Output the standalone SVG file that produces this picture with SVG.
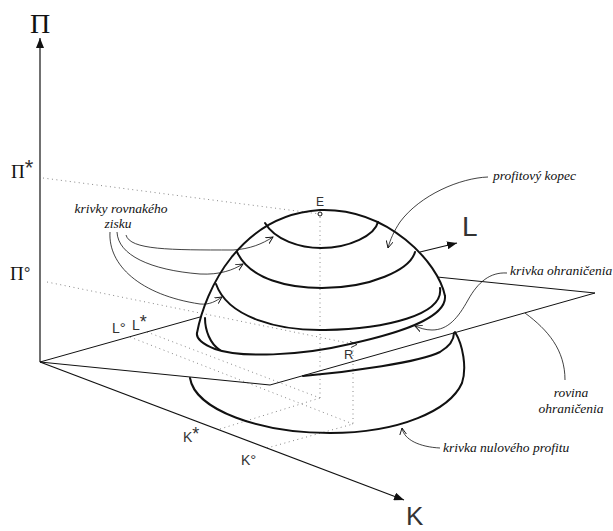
<svg xmlns="http://www.w3.org/2000/svg" width="613" height="531" viewBox="0 0 613 531">
<style>
.ax{stroke:#111;stroke-width:1.2;fill:none}
.pl{stroke:#111;stroke-width:1;fill:none}
.dm{stroke:#111;stroke-width:2;fill:none;stroke-linecap:round}
.dot{stroke:#888;stroke-width:1;fill:none;stroke-dasharray:1 3.5}
.ld{stroke:#111;stroke-width:0.8;fill:none}
.it{font-family:'Liberation Serif','DejaVu Serif',serif;font-style:italic;font-size:13.5px;fill:#111}
.sn{font-family:'Liberation Sans','DejaVu Sans',sans-serif;fill:#333}
.gr{font-family:'Liberation Serif',serif;fill:#111}
</style>
<defs>
<marker id="fa" viewBox="0 0 10 8" refX="10" refY="4" markerWidth="10" markerHeight="8" markerUnits="userSpaceOnUse" orient="auto"><path d="M0,0 L10,4 L0,8 Z" fill="#111"/></marker>
<marker id="oa" viewBox="0 0 8 8" refX="7" refY="4" markerWidth="8" markerHeight="8" markerUnits="userSpaceOnUse" orient="auto"><path d="M0,0.5 L7,4 L0,7.5" fill="none" stroke="#111" stroke-width="0.9"/></marker>
</defs>

<g id="dotted-guides">
<path class="dot" d="M43,178 L320,214"/>
<path class="dot" d="M47,282 L353,344"/>
<path class="dot" d="M320,217 L320,398"/>
<path class="dot" d="M353,346 L353,424"/>
<path class="dot" d="M130,337 L353,424"/>
<path class="dot" d="M147,332 L320,398"/>
<path class="dot" d="M220,429 L320,398"/>
<path class="dot" d="M267,448 L353,424"/>
</g>

<g id="axes">
<path class="ax" d="M40,362 L40,38" marker-end="url(#fa)"/>
<path class="ax" d="M40,362 L404,500" marker-end="url(#fa)"/>
<path class="ax" d="M420,252 L457,243" marker-end="url(#fa)"/>
</g>

<g id="plane">
<path class="pl" d="M200,317 L40,362 L270,385 L595,293 L437,277"/>
</g>

<g id="lower-dome">
<path class="dm" d="M190,378 C195,410 260,433 330,433 C400,433 450,410 462,383 C467,368 463,345 455,332"/>
<path class="dm" d="M303,376 C350,372 420,362 440,352 C450,346 454,340 454,333"/>
</g>

<g id="upper-dome">
<path class="dm" d="M197,333 C205,290 240,215 320,210 C388,208 438,262 445,296"/>
<path class="dm" d="M445,296 C447,318 400,333 350,344 C300,356 240,358 215,349 C202,344 196,338 197,333"/>
<path class="dm" d="M205,318 C205,330 210,344 220,350"/>
<path class="dm" d="M265,223 C275,240 300,248 321,248 C350,248 375,235 378,222"/>
<path class="dm" d="M237,252 C250,280 290,288 322,288 C370,288 410,270 415,252"/>
<path class="dm" d="M216,284 C228,318 280,331 325,330 C385,329 444,315 440,288"/>
<circle cx="320" cy="214" r="2" fill="#fff" stroke="#111" stroke-width="1"/>
<path class="ld" d="M350,341.5 L357,344.5 L351,347.5"/>
</g>

<g id="connectors">
<path class="ld" d="M126,235 C130,250 170,250 233,250 C250,249 262,244 273,237" marker-end="url(#oa)"/>
<path class="ld" d="M117,232 C118,255 150,270 200,274 C220,275 233,270 243,264" marker-end="url(#oa)"/>
<path class="ld" d="M110,232 C108,265 140,295 200,304 C210,305 216,301 222,297" marker-end="url(#oa)"/>
<path class="ld" d="M488,177 C460,178 420,195 400,222 C394,231 390,240 388,248" marker-end="url(#oa)"/>
<path class="ld" d="M507,273 C490,272 478,282 468,300 C458,318 448,330 432,330 C425,330 420,328 415,326" marker-end="url(#oa)"/>
<path class="ld" d="M525,313 C548,330 565,350 565,380"/>
<path class="ld" d="M440,448 C420,447 404,440 402,428" marker-end="url(#oa)"/>
</g>

<g id="axis-labels">
<text class="gr" x="40" y="33" font-size="28" text-anchor="middle">Π</text>
<text class="gr" x="11" y="178" font-size="19">Π<tspan class="sn" font-size="22" dy="-3">*</tspan></text>
<text class="gr" x="10" y="280" font-size="19">Π<tspan class="sn" font-size="17" dy="-1">°</tspan></text>
<text class="sn" x="462" y="236" font-size="28">L</text>
<text class="sn" x="406" y="525" font-size="26">K</text>
<text class="sn" x="316" y="206" font-size="12">E</text>
<text class="sn" x="344" y="359" font-size="13">R</text>
<text class="sn" x="183" y="442" font-size="14">K<tspan font-size="18" dy="-2">*</tspan></text>
<text class="sn" x="241" y="465" font-size="14">K<tspan font-size="15">°</tspan></text>
<text class="sn" x="112" y="333" font-size="14">L<tspan font-size="15">°</tspan></text>
<text class="sn" x="132" y="330" font-size="14">L<tspan font-size="18" dy="-2">*</tspan></text>
</g>

<g id="notes">
<text class="it" x="121" y="213" text-anchor="middle">krivky rovnakého</text>
<text class="it" x="118" y="228" text-anchor="middle">zisku</text>
<text class="it" x="493" y="180">profitový kopec</text>
<text class="it" x="510" y="275">krivka  ohraničenia</text>
<text class="it" x="571" y="397" text-anchor="middle">rovina</text>
<text class="it" x="571" y="413" text-anchor="middle">ohraničenia</text>
<text class="it" x="443" y="452">krivka nulového profitu</text>
</g>
</svg>
